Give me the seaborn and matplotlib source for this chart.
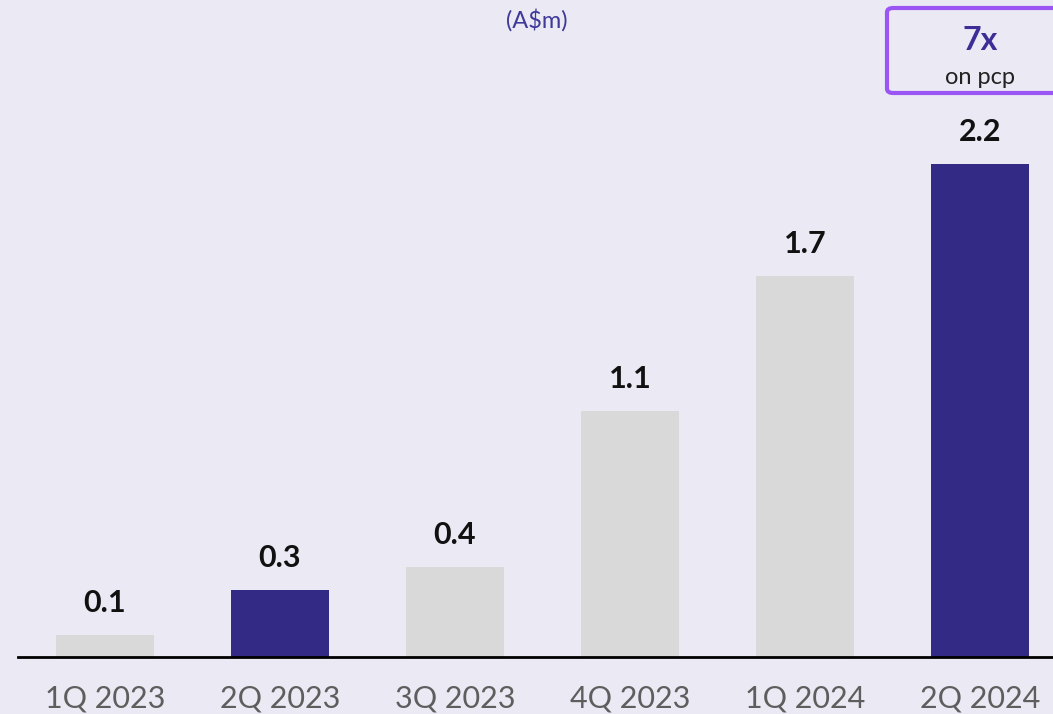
import matplotlib
matplotlib.use("Agg")
import matplotlib.pyplot as plt
from matplotlib.patches import FancyBboxPatch
import seaborn as sns
import pandas as pd

quarters = ["1Q 2023", "2Q 2023", "3Q 2023", "4Q 2023", "1Q 2024", "2Q 2024"]
values = [0.1, 0.3, 0.4, 1.1, 1.7, 2.2]
value_labels = ["0.1", "0.3", "0.4", "1.1", "1.7", "2.2"]
bar_colors = ["#D9D9D9", "#332A86", "#D9D9D9", "#D9D9D9", "#D9D9D9", "#332A86"]

BG = "#EBEAF4"
sns.set_theme(style="white")
plt.rcParams["font.family"] = ["Lato", "DejaVu Sans"]

W, H = 1053, 714
fig = plt.figure(figsize=(W / 100, H / 100), dpi=100, facecolor=BG)
ax = fig.add_axes([18 / W, (H - 657) / H, (W - 18) / W, 657 / H])
ax.set_facecolor(BG)

df = pd.DataFrame({"quarter": quarters, "value": values})
sns.barplot(data=df, x="quarter", y="value", hue="quarter",
            palette=bar_colors, width=0.56, legend=False, saturation=1,
            edgecolor="none", linewidth=0, ax=ax)

ax.set_xlim(-0.497, 5.417)
ax.set_ylim(0, 2.933)

for i, (v, lab) in enumerate(zip(values, value_labels)):
    ax.annotate(lab, (i, v), xytext=(0, 18), textcoords="offset pixels",
                ha="center", va="bottom", fontsize=22, fontweight="bold",
                color="#111111")

for s in ["top", "right", "left"]:
    ax.spines[s].set_visible(False)
ax.spines["bottom"].set_color("black")
ax.spines["bottom"].set_linewidth(2)
ax.set_yticks([])
ax.set_xlabel("")
ax.set_ylabel("")
ax.tick_params(axis="x", length=0, pad=20, labelsize=22, labelcolor="#5E5E5E")

# unit note under the title
fig.text(537 / W, 1 - 20 / H, "(A$m)", ha="center", va="center",
         fontsize=17, color="#3F3A99")

# growth callout box
box = FancyBboxPatch((887 / W, 1 - 93 / H), 200 / W, 85 / H,
                     boxstyle="round,pad=0,rounding_size=0.006",
                     transform=fig.transFigure, facecolor="none",
                     edgecolor="#9B55F5", linewidth=3, clip_on=False)
fig.patches.append(box)
fig.text(980 / W, 1 - 41 / H, "7x", ha="center", va="center",
         fontsize=23, fontweight="bold", color="#3C2E96")
fig.text(980 / W, 1 - 77 / H, "on pcp", ha="center", va="center",
         fontsize=17, color="#222222")

fig.savefig("out.png", dpi=100, facecolor=BG)
